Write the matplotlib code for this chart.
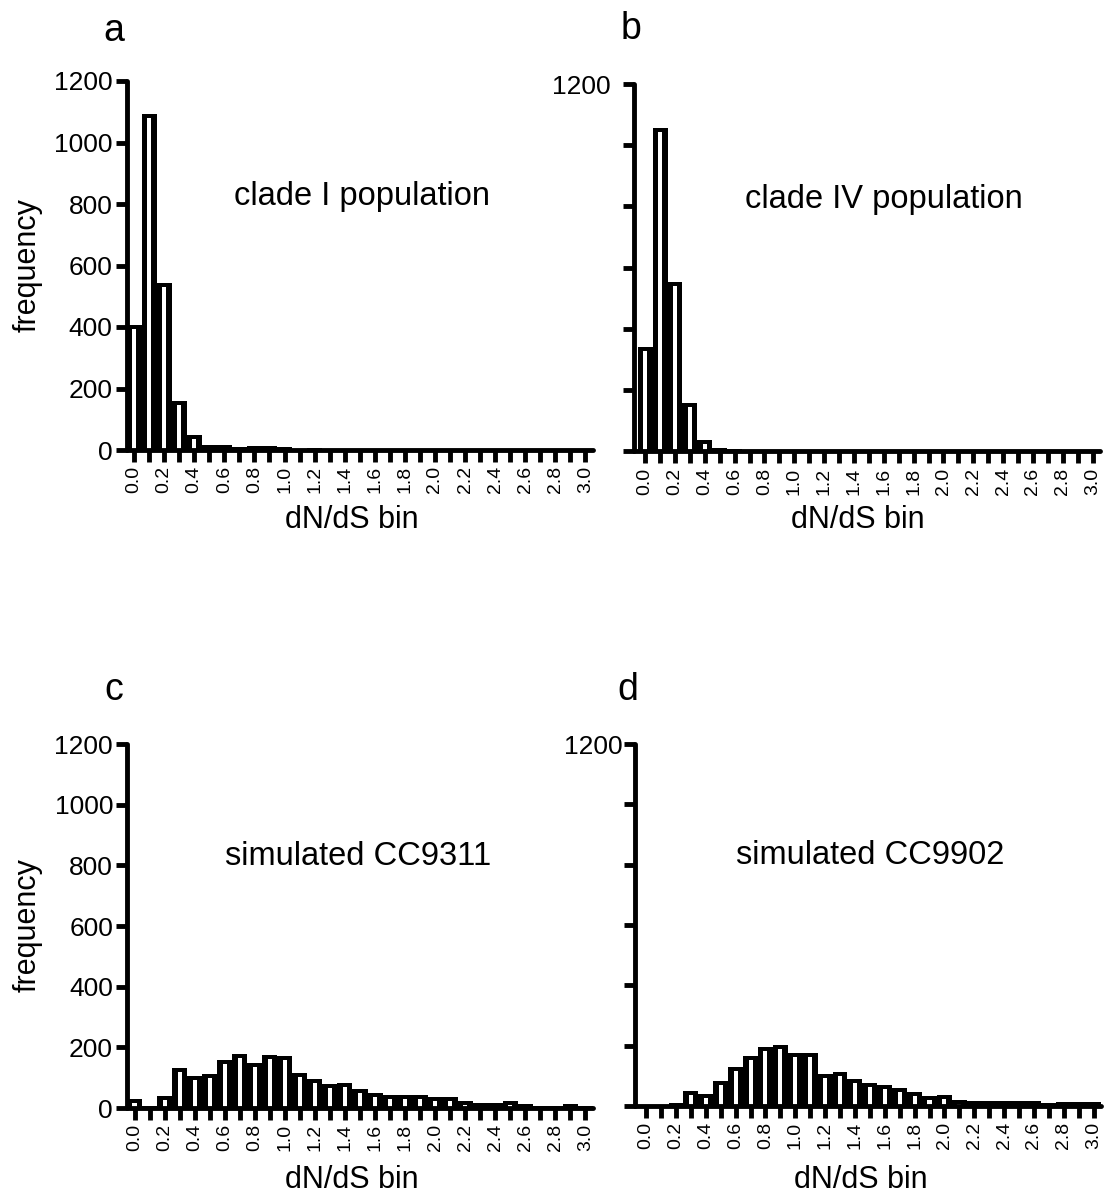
"""
dN/dS distributions for two natural clades and two simulated genomes.
"""
import numpy as np
import matplotlib
matplotlib.use('Agg')
import matplotlib.pyplot as plt

plt.rcParams['font.family'] = ['Liberation Sans', 'DejaVu Sans']

# dN/dS bins (0.0 .. 3.0, step 0.1)
bins = np.round(np.arange(0, 3.01, 0.1), 1)
bin_labels = [f'{b:.1f}' if i % 2 == 0 else '' for i, b in enumerate(bins)]

# counts per bin
clade_I = [405, 1094, 543, 159, 48, 17, 16, 10, 12, 14, 9, 4, 6, 3, 4, 4,
           3, 3, 2, 3, 3, 2, 1, 3, 2, 2, 3, 1, 4, 1, 1]
clade_IV = [342, 1055, 554, 157, 37, 12, 8, 4, 3, 4, 2, 1, 2, 1, 1, 1,
            1, 1, 1, 1, 1, 1, 1, 1, 1, 1, 1, 1, 1, 1, 1]
sim_CC9311 = [30, 5, 39, 133, 104, 111, 159, 177, 150, 174, 172, 117, 94, 78,
              84, 63, 50, 43, 42, 43, 36, 36, 22, 18, 15, 22, 12, 8, 6, 12, 8]
sim_CC9902 = [3, 1, 9, 50, 40, 84, 130, 166, 195, 201, 177, 175, 107, 113,
              88, 77, 70, 59, 48, 32, 38, 20, 18, 16, 16, 15, 18, 10, 12, 14, 14]

y_ticks = [0, 200, 400, 600, 800, 1000, 1200]

W, H = 1109, 1194


def px_axes(fig, left, top, right, bottom):
    """Add axes from a pixel box (origin top-left)."""
    return fig.add_axes([left / W, 1 - bottom / H,
                         (right - left) / W, (bottom - top) / H])


def draw_hist(ax, values, x_left, show_ylabels, ypad, note, note_xy):
    values = np.asarray(values, dtype=float)
    # heavy black bars with a thin white core
    ax.bar(bins, values, width=0.1, color='black', linewidth=0, zorder=2)
    border = 4.0 * 1200 / ax.bbox.height
    core = np.clip(values - border, 0, None)
    ax.bar(bins, core, width=0.027, color='white', linewidth=0, zorder=3)

    ax.set_xlim(x_left, 3.05)
    ax.set_ylim(0, 1200)
    for side in ('top', 'right'):
        ax.spines[side].set_visible(False)
    for side in ('left', 'bottom'):
        ax.spines[side].set_linewidth(3.5)
        ax.spines[side].set_capstyle('round')
        ax.spines[side].set_zorder(5)
    ax.spines['left'].set_bounds(0, 1200)

    ax.set_xticks(bins)
    ax.set_xticklabels(bin_labels)
    ax.set_yticks(y_ticks)
    if show_ylabels:
        ax.set_yticklabels([str(t) for t in y_ticks])
    else:
        ax.set_yticklabels(['' for _ in y_ticks[:-1]] + ['1200'])

    ax.tick_params(axis='y', direction='out', length=8, width=3.5,
                   labelsize=19, pad=2)
    ax.tick_params(axis='y', pad=ypad)
    ax.tick_params(axis='x', direction='out', length=8.5, width=3.5,
                   labelsize=14, pad=3, labelrotation=90)

    ax.text(note_xy[0], note_xy[1], note, transform=ax.transAxes,
            ha='center', va='center', fontsize=23.5)


fig = plt.figure(figsize=(W / 100, H / 100), dpi=100)

panels = [
    # letter, values, pixel box, x-left, all y labels, y pad, note, note pos,
    # letter pos, xlabel pos, ylabel pos
    ('a', clade_I, (126.5, 81, 593, 450), -0.05, True, 2,
     'clade I population', (0.505, 0.686), (114, 31), (352, 520), (28, 265)),
    ('b', clade_IV, (634, 84, 1100, 451.5), -0.075, False, 9,
     'clade IV population', (0.536, 0.686), (631, 29), (858, 520), None),
    ('c', sim_CC9311, (127, 744, 593, 1108), -0.05, True, 2,
     'simulated CC9311', (0.496, 0.692), (114, 690), (352, 1180), (28, 925)),
    ('d', sim_CC9902, (635, 744, 1101, 1106), -0.075, False, 1,
     'simulated CC9902', (0.504, 0.692), (628, 690), (861, 1180), None),
]

for (letter, vals, box, x_left, show_y, ypad, note, note_xy,
     letter_xy, xlab_xy, ylab_xy) in panels:
    ax = px_axes(fig, *box)
    draw_hist(ax, vals, x_left, show_y, ypad, note, note_xy)
    fig.text(letter_xy[0] / W, 1 - letter_xy[1] / H, letter,
             ha='center', va='center', fontsize=27)
    fig.text(xlab_xy[0] / W, 1 - xlab_xy[1] / H, 'dN/dS bin',
             ha='center', va='center', fontsize=22)
    if ylab_xy is not None:
        fig.text(ylab_xy[0] / W, 1 - ylab_xy[1] / H, 'frequency',
                 rotation=90, ha='center', va='center', fontsize=22)

fig.savefig('out.png', dpi=100)
plt.close(fig)
